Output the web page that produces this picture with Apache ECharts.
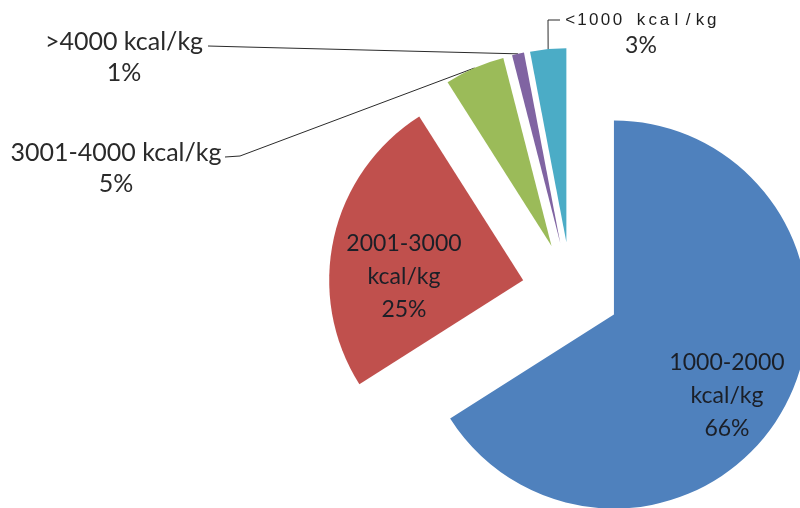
<!DOCTYPE html>
<html>
<head>
<meta charset="utf-8">
<script src="https://cdn.jsdelivr.net/npm/echarts@6/dist/echarts.min.js"></script>
<style>
  html, body { margin: 0; padding: 0; background: #fff; }
  #chart { width: 800px; height: 508px; }
</style>
</head>
<body>
<div id="chart"></div>
<script>
// Share of output by calorific value band
const categories = ['1000-2000 kcal/kg', '2001-3000 kcal/kg', '3001-4000 kcal/kg', '>4000 kcal/kg', '<1000 kcal/kg'];
const shares = [66, 25, 5, 1, 3];
const colors = ['#4F81BD', '#C0504D', '#9BBB59', '#8064A2', '#4BACC6'];

// Pie geometry (px)
const CX = 571, CY = 291, RADIUS = 194, EXPLODE = 49;
const FONT = 'Lato, "Open Sans", sans-serif';

// Where each label block is centred, and how its leader line is routed
const labelSpots = [
  { x: 727, y: 396, inside: true },
  { x: 404, y: 277, inside: true },
  { x: 116, y: 168, elbow: [240, 156], end: [225, 157] },
  { x: 124, y: 57, elbow: [245, 47], end: [208, 46] },
  { x: 641, y: 35, elbow: [548, 20], end: [560, 20] }
];

const total = shares.reduce((a, b) => a + b, 0);

// Mid-angle of slice i, clockwise from 12 o'clock, in radians
function midAngle(i) {
  let before = 0;
  for (let k = 0; k < i; k++) before += shares[k];
  return (before + shares[i] / 2) / total * Math.PI * 2;
}

// Point at distance d from the pie centre along the slice's mid-angle
function alongSlice(i, d) {
  const a = midAngle(i);
  return [CX + d * Math.sin(a), CY - d * Math.cos(a)];
}

// Letter-spaced text: one fixed-width rich fragment per character
function spaced(str) {
  return str.split('').map(ch => '{sp|' + ch + '}').join('');
}

function labelFor(i) {
  const name = categories[i];
  const pct = shares[i] + '%';
  if (labelSpots[i].inside) {
    return {
      show: true,
      position: 'inside',
      formatter: name.replace(' ', '\n') + '\n' + pct,
      fontFamily: FONT,
      fontSize: 23,
      lineHeight: 33,
      color: '#1b1f27',
      align: 'center'
    };
  }
  if (name.charAt(0) === '<') {
    return {
      show: true,
      position: 'outside',
      formatter: spaced(name) + '\n{pc|' + pct + '}',
      align: 'center',
      rich: {
        sp: { width: 11.8, align: 'center', fontFamily: '"Liberation Sans", Arial, sans-serif', fontSize: 17, lineHeight: 22, color: '#1e1e1e' },
        pc: { fontFamily: FONT, fontSize: 23, lineHeight: 30, color: '#2a2a2a' }
      }
    };
  }
  return {
    show: true,
    position: 'outside',
    formatter: name + '\n' + pct,
    fontFamily: FONT,
    fontSize: 25,
    lineHeight: 31,
    color: '#2a2a2a',
    align: 'center'
  };
}

// One pie layer per slice: every layer shares the same angles, only its own
// slice is painted, and the layer centre is pushed out along that slice.
const series = categories.map((_, s) => ({
  type: 'pie',
  center: alongSlice(s, EXPLODE),
  radius: RADIUS,
  startAngle: 90,
  clockwise: true,
  silent: true,
  avoidLabelOverlap: false,
  emphasis: { disabled: true },
  labelLine: { lineStyle: { color: '#2b2b2b', width: 1 } },
  labelLayout: function (p) {
    const sp = labelSpots[p.dataIndex];
    const out = { x: sp.x, y: sp.y, align: 'center', verticalAlign: 'middle' };
    if (!sp.inside) {
      out.labelLinePoints = [alongSlice(p.dataIndex, RADIUS + EXPLODE), sp.elbow, sp.end];
    }
    return out;
  },
  data: categories.map((name, i) => ({
    name: name,
    value: shares[i],
    itemStyle: { color: i === s ? colors[i] : 'rgba(0,0,0,0)', borderWidth: 0 },
    label: i === s ? labelFor(i) : { show: false },
    labelLine: { show: i === s && !labelSpots[i].inside, smooth: false }
  }))
}));

const chart = echarts.init(document.getElementById('chart'), null, { renderer: 'canvas' });

chart.setOption({
  animation: false,
  backgroundColor: '#ffffff',
  series: series
});
</script>
</body>
</html>
